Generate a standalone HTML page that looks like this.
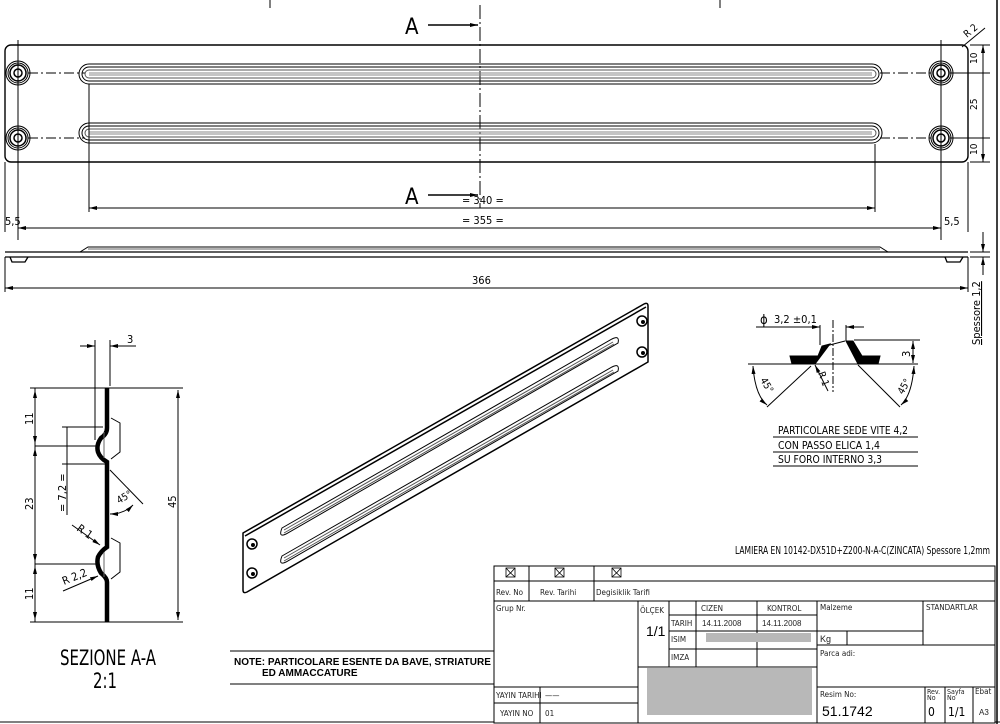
<!DOCTYPE html>
<html><head><meta charset="utf-8"><style>
html,body{margin:0;padding:0;background:#fff;}
svg{display:block;font-family:"DejaVu Sans Condensed","Liberation Sans Narrow","Liberation Sans",sans-serif;}
.t{font-family:"Liberation Sans",sans-serif;}
</style></head><body>
<svg width="1000" height="724" viewBox="0 0 1000 724" xmlns="http://www.w3.org/2000/svg" fill="none" stroke="#000" stroke-width="1">
<defs>
<marker id="ar" markerWidth="8" markerHeight="6" refX="8" refY="3" orient="auto-start-reverse" markerUnits="userSpaceOnUse"><path d="M0,1 L8,3 L0,5z" fill="#000" stroke="none"/></marker>
</defs>
<line x1="997" y1="0" x2="997" y2="724" stroke-width="1.5"/>
<line x1="0" y1="722" x2="1000" y2="722"/>
<line x1="270" y1="0" x2="270" y2="8"/><line x1="720" y1="0" x2="720" y2="8"/>

<rect x="5" y="45" width="963" height="117" rx="6" stroke-width="1.4"/>
<line x1="480" y1="5" x2="480" y2="208" stroke-dasharray="14,3,2,3"/>
<line x1="18" y1="40" x2="18" y2="240"/>
<line x1="941" y1="40" x2="941" y2="240"/>
<line x1="28" y1="73" x2="85" y2="73" stroke-dasharray="10,3,2,3"/>
<line x1="28" y1="138" x2="85" y2="138" stroke-dasharray="10,3,2,3"/>
<line x1="880" y1="73" x2="932" y2="73" stroke-dasharray="10,3,2,3"/>
<line x1="880" y1="138" x2="932" y2="138" stroke-dasharray="10,3,2,3"/>
<g stroke-width="1">
<g id="hole"><circle cx="18" cy="73" r="12"/><circle cx="18" cy="73" r="10"/><circle cx="18" cy="73" r="8" stroke-width="1.5"/><circle cx="18" cy="73" r="4" stroke-width="1.5"/></g>
<use href="#hole" y="65"/><use href="#hole" x="923"/><use href="#hole" x="923" y="65"/>
</g>
<g id="slot">
<path d="M89,64 H872 A10,10 0 0 1 872,84 H89 A10,10 0 0 1 89,64 Z"/>
<path d="M89,67 H872 A7,7 0 0 1 872,81 H89 A7,7 0 0 1 89,67 Z"/>
<path d="M89,70 H872 A4,4 0 0 1 872,78 H89 A4,4 0 0 1 89,70 Z" stroke="#555"/>
<line x1="89" y1="73" x2="872" y2="73" stroke="#888"/>
<line x1="89" y1="75" x2="872" y2="75" stroke="#888"/>
</g>
<use href="#slot" y="59"/>
<text x="405" y="34" font-size="22" fill="#000" stroke="none">A</text>
<line x1="428" y1="25" x2="478" y2="25" stroke-width="1.5" marker-end="url(#ar)"/>
<text x="405" y="204" font-size="22" fill="#000" stroke="none">A</text>
<line x1="428" y1="195" x2="478" y2="195" stroke-width="1.5" marker-end="url(#ar)"/>
<line x1="89" y1="84" x2="89" y2="212"/><line x1="875" y1="144" x2="875" y2="212"/>
<line x1="89" y1="208" x2="875" y2="208" marker-start="url(#ar)" marker-end="url(#ar)"/>
<text x="462" y="204" font-size="11" fill="#000" stroke="none">= 340 =</text>
<line x1="18" y1="228" x2="941" y2="228" marker-start="url(#ar)" marker-end="url(#ar)"/>
<text x="462" y="224" font-size="11" fill="#000" stroke="none">= 355 =</text>
<line x1="5" y1="162" x2="5" y2="232"/><line x1="968" y1="162" x2="968" y2="232"/>
<text x="5" y="225" font-size="11" fill="#000" stroke="none">5,5</text>
<text x="944" y="225" font-size="11" fill="#000" stroke="none">5,5</text>
<line x1="950" y1="73" x2="990" y2="73"/><line x1="950" y1="138" x2="990" y2="138"/>
<line x1="970" y1="45" x2="990" y2="45"/><line x1="970" y1="162" x2="990" y2="162"/>
<line x1="983" y1="45" x2="983" y2="162" marker-start="url(#ar)" marker-end="url(#ar)"/>
<text font-size="10" fill="#000" stroke="none" transform="translate(977,64) rotate(-90)">10</text>
<text font-size="10" fill="#000" stroke="none" transform="translate(977,110) rotate(-90)">25</text>
<text font-size="10" fill="#000" stroke="none" transform="translate(977,155) rotate(-90)">10</text>
<line x1="962" y1="47" x2="985" y2="28"/>
<text font-size="10" fill="#000" stroke="none" transform="translate(967,38) rotate(-40)">R 2</text>

<line x1="5" y1="252" x2="968" y2="252" stroke-width="1.2"/>
<line x1="5" y1="257" x2="968" y2="257" stroke-width="1.2"/>
<path d="M80,252 L88,247 H880 L888,252"/>
<line x1="88" y1="249" x2="880" y2="249" stroke="#666"/>
<path d="M10,257 L12,262 H25 L28,257" stroke-width="1.3"/>
<path d="M945,257 L947,262 H960 L963,257" stroke-width="1.3"/>
<line x1="5" y1="257" x2="5" y2="292"/><line x1="968" y1="257" x2="968" y2="292"/>
<line x1="5" y1="288" x2="968" y2="288" marker-start="url(#ar)" marker-end="url(#ar)"/>
<text x="472" y="284" font-size="11" fill="#000" stroke="none">366</text>
<line x1="970" y1="252" x2="990" y2="252"/><line x1="970" y1="257" x2="990" y2="257"/>
<line x1="983" y1="232" x2="983" y2="252" marker-end="url(#ar)"/>
<line x1="983" y1="275" x2="983" y2="257" marker-end="url(#ar)"/>
<text font-size="11" fill="#000" stroke="none" transform="translate(980,345) rotate(-90)" text-decoration="underline">Spessore  1,2</text>

<path d="M107,388 V428 Q107,434 101,438 Q96,445 98,452 Q100,458 107,462 V547 Q101,551 98,557 Q96,565 101,573 Q107,578 107,582 V622" stroke-width="4.5"/>
<path d="M111,418 L120,423 V452 L111,459"/><path d="M111,538 L120,543 V572 L111,579"/>
<line x1="104" y1="432" x2="104" y2="458" stroke="#666"/><line x1="104" y1="552" x2="104" y2="577" stroke="#666"/>
<line x1="30" y1="388" x2="183" y2="388"/><line x1="30" y1="622" x2="183" y2="622"/>
<line x1="35" y1="446" x2="96" y2="446"/><line x1="35" y1="564" x2="96" y2="564"/>
<line x1="35" y1="388" x2="35" y2="622"/>
<line x1="35" y1="390" x2="35" y2="444" marker-start="url(#ar)" marker-end="url(#ar)"/>
<line x1="35" y1="448" x2="35" y2="562" marker-start="url(#ar)" marker-end="url(#ar)"/>
<line x1="35" y1="566" x2="35" y2="620" marker-start="url(#ar)" marker-end="url(#ar)"/>
<line x1="178" y1="390" x2="178" y2="620" marker-start="url(#ar)" marker-end="url(#ar)"/>
<text font-size="11" fill="#000" stroke="none" transform="translate(33,425) rotate(-90)">11</text>
<text font-size="11" fill="#000" stroke="none" transform="translate(33,510) rotate(-90)">23</text>
<text font-size="11" fill="#000" stroke="none" transform="translate(33,600) rotate(-90)">11</text>
<text font-size="11" fill="#000" stroke="none" transform="translate(176,508) rotate(-90)">45</text>
<line x1="62" y1="427" x2="103" y2="427"/><line x1="62" y1="464" x2="107" y2="464"/>
<line x1="67" y1="427" x2="67" y2="515"/>
<text font-size="11" fill="#000" stroke="none" transform="translate(66,512) rotate(-90)">= 7,2 =</text>
<line x1="95" y1="340" x2="95" y2="440"/><line x1="110" y1="340" x2="110" y2="386"/>
<line x1="80" y1="346" x2="95" y2="346" marker-end="url(#ar)"/>
<line x1="136" y1="346" x2="110" y2="346" marker-end="url(#ar)"/>
<text x="127" y="343" font-size="11" fill="#000" stroke="none">3</text>
<line x1="110" y1="470" x2="143" y2="504"/>
<path d="M110,514 Q124,514 133,505" marker-start="url(#ar)" marker-end="url(#ar)"/>
<text font-size="10" fill="#000" stroke="none" transform="translate(119,504) rotate(-30)">45°</text>
<line x1="72" y1="525" x2="100" y2="545" marker-end="url(#ar)"/>
<text font-size="11" fill="#000" stroke="none" transform="translate(76,530) rotate(35)">R 1</text>
<line x1="63" y1="591" x2="98" y2="576" marker-end="url(#ar)"/>
<text font-size="11" fill="#000" stroke="none" transform="translate(64,585) rotate(-22)">R 2,2</text>
<text x="60" y="665" font-size="21" fill="#000" stroke="none" textLength="96" lengthAdjust="spacingAndGlyphs" font-weight="300">SEZIONE A-A</text>
<text x="93" y="688" font-size="21" fill="#000" stroke="none" textLength="24" lengthAdjust="spacingAndGlyphs">2:1</text>

<path d="M243,533 L644,304 Q648,302 648,306 V362 L247,592 Q243,594 243,590 Z" stroke-width="1.5"/>
<path d="M245,536 L646,307" stroke-width="1.5"/>
<g stroke-width="1">
<path d="M282,528 L612,339 Q620,335 618,343 L286,534 Q278,538 282,528 Z"/>
<path d="M284,530 L613,342" stroke="#555"/><path d="M284,533 L614,344" stroke="#555"/>
<path d="M282,556 L612,367 Q620,363 618,371 L286,562 Q278,566 282,556 Z"/>
<path d="M284,558 L613,370" stroke="#555"/><path d="M284,561 L614,372" stroke="#555"/>
</g>
<g stroke-width="1.5"><circle cx="252" cy="544" r="5"/><circle cx="252" cy="573" r="5"/><circle cx="642" cy="321" r="5"/><circle cx="642" cy="352" r="5"/></g>
<g fill="#000" stroke="none"><circle cx="253" cy="545" r="2"/><circle cx="253" cy="574" r="2"/><circle cx="643" cy="322" r="2"/><circle cx="643" cy="353" r="2"/></g>

<line x1="748" y1="364" x2="918" y2="364"/>
<path d="M790,356 L818,356 L812,364 L792,364 Z" fill="#000"/>
<path d="M818,356 L822,346 L830,344 L815,364 L812,364 Z" fill="#000"/>
<path d="M846,341 L853,341 L862,356 L880,356 L878,364 L858,364 Z" fill="#000"/>
<line x1="822" y1="347" x2="845" y2="341"/>
<line x1="833" y1="320" x2="833" y2="392" stroke-dasharray="8,2,2,2"/>
<line x1="820" y1="325" x2="820" y2="345"/><line x1="846" y1="325" x2="846" y2="341"/>
<line x1="756" y1="327" x2="820" y2="327" marker-end="url(#ar)"/>
<line x1="864" y1="327" x2="846" y2="327" marker-end="url(#ar)"/>
<text x="760" y="324" font-size="13" fill="#000" stroke="none">ϕ</text>
<text x="774" y="323" font-size="11" fill="#000" stroke="none">3,2 ±0,1</text>
<line x1="854" y1="340" x2="920" y2="340"/>
<line x1="913" y1="341" x2="913" y2="363" marker-start="url(#ar)" marker-end="url(#ar)"/>
<text font-size="11" fill="#000" stroke="none" transform="translate(910,357) rotate(-90)">3</text>
<line x1="811" y1="366" x2="767" y2="407"/><line x1="858" y1="365" x2="900" y2="407"/>
<path d="M753,366 Q755,395 767,405" marker-start="url(#ar)" marker-end="url(#ar)"/>
<path d="M914,366 Q912,395 901,405" marker-start="url(#ar)" marker-end="url(#ar)"/>
<text font-size="10" fill="#000" stroke="none" transform="translate(760,380) rotate(60)">45°</text>
<text font-size="10" fill="#000" stroke="none" transform="translate(903,395) rotate(-60)">45°</text>
<line x1="828" y1="391" x2="815" y2="365" marker-end="url(#ar)"/>
<text font-size="10" fill="#000" stroke="none" transform="translate(818,373) rotate(70)">R 1</text>
<g font-size="11" fill="#000" stroke="none">
<text x="778" y="434" textLength="130" lengthAdjust="spacingAndGlyphs">PARTICOLARE SEDE VITE 4,2</text>
<text x="778" y="449" textLength="102" lengthAdjust="spacingAndGlyphs">CON PASSO ELICA 1,4</text>
<text x="778" y="463" textLength="104" lengthAdjust="spacingAndGlyphs">SU FORO INTERNO 3,3</text>
</g>
<line x1="773" y1="437" x2="918" y2="437"/><line x1="773" y1="452" x2="918" y2="452"/><line x1="773" y1="466" x2="918" y2="466"/>
<text x="735" y="554" font-size="11" fill="#000" stroke="none" textLength="255" lengthAdjust="spacingAndGlyphs">LAMIERA EN 10142-DX51D+Z200-N-A-C(ZINCATA) Spessore 1,2mm</text>

<line x1="230" y1="651" x2="494" y2="651"/><line x1="230" y1="684" x2="494" y2="684"/>
<text x="234" y="665" font-size="10" font-weight="bold" fill="#000" stroke="none" class="t">NOTE: PARTICOLARE ESENTE DA BAVE, STRIATURE</text>
<text x="262" y="676" font-size="10" font-weight="bold" fill="#000" stroke="none" class="t">ED AMMACCATURE</text>

<g stroke-width="1">
<rect x="494" y="566" width="501" height="157" fill="#fff"/>
<line x1="494" y1="581" x2="995" y2="581"/><line x1="494" y1="601" x2="995" y2="601"/>
<line x1="529" y1="566" x2="529" y2="601"/><line x1="594" y1="566" x2="594" y2="601"/>
<line x1="638" y1="601" x2="638" y2="723"/>
<line x1="669" y1="601" x2="669" y2="667"/><line x1="696" y1="601" x2="696" y2="667"/>
<line x1="757" y1="601" x2="757" y2="667"/><line x1="817" y1="601" x2="817" y2="723"/>
<line x1="669" y1="615" x2="817" y2="615"/><line x1="669" y1="631" x2="923" y2="631"/>
<line x1="669" y1="649" x2="817" y2="649"/><line x1="638" y1="667" x2="817" y2="667"/>
<line x1="923" y1="601" x2="923" y2="645"/><line x1="817" y1="645" x2="995" y2="645"/>
<line x1="847" y1="631" x2="847" y2="645"/>
<line x1="817" y1="687" x2="995" y2="687"/><line x1="494" y1="687" x2="638" y2="687"/>
<line x1="494" y1="703" x2="638" y2="703"/><line x1="540" y1="687" x2="540" y2="723"/>
<line x1="925" y1="687" x2="925" y2="723"/><line x1="945" y1="687" x2="945" y2="723"/><line x1="973" y1="687" x2="973" y2="723"/>
</g>
<rect x="706" y="633" width="105" height="9" fill="#b8b8b8" stroke="none"/>
<rect x="647" y="668" width="165" height="47" fill="#b8b8b8" stroke="none"/>
<g stroke-width="0.8">
<rect x="506" y="568" width="9" height="9"/><path d="M506,568 L510.5,573 L515,568 M506,577 L510.5,573 L515,577"/>
<rect x="555" y="568" width="9" height="9"/><path d="M555,568 L559.5,573 L564,568 M555,577 L559.5,573 L564,577"/>
<rect x="612" y="568" width="9" height="9"/><path d="M612,568 L616.5,573 L621,568 M612,577 L616.5,573 L621,577"/>
</g>
<g font-size="8" fill="#222" stroke="none">
<text x="496" y="595">Rev. No</text><text x="540" y="595">Rev. Tarihi</text><text x="596" y="595">Degisiklik Tarifi</text>
<text x="496" y="611">Grup Nr.</text>
<text x="640" y="613">ÖLÇEK</text>
<text x="701" y="611">CIZEN</text><text x="767" y="611">KONTROL</text>
<text x="671" y="626">TARIH</text><text x="671" y="642">ISIM</text><text x="671" y="660">IMZA</text>
<text x="702" y="626" class="t">14.11.2008</text><text x="762" y="626" class="t">14.11.2008</text>
<text x="820" y="610">Malzeme</text><text x="926" y="610">STANDARTLAR</text>
<text x="820" y="642" class="t" font-size="9">Kg</text>
<text x="820" y="656">Parca  adi:</text>
<text x="496" y="698">YAYIN TARIHI</text><text x="545" y="698">——</text>
<text x="500" y="716">YAYIN NO</text><text x="545" y="716">01</text>
<text x="820" y="697">Resim  No:</text>
<text x="927" y="694" font-size="7">Rev.</text><text x="927" y="700" font-size="7">No</text>
<text x="947" y="694" font-size="7">Sayfa</text><text x="947" y="700" font-size="7">No</text>
<text x="975" y="694">Ebat</text>
<text x="979" y="715" class="t">A3</text>
</g>
<text x="646" y="636" font-size="14" fill="#000" stroke="none" class="t">1/1</text>
<text x="822" y="716" font-size="14" fill="#000" stroke="none" class="t">51.1742</text>
<text x="928" y="716" font-size="12" fill="#000" stroke="none">0</text>
<text x="948" y="716" font-size="12" fill="#000" stroke="none">1/1</text>
</svg>
</body></html>
